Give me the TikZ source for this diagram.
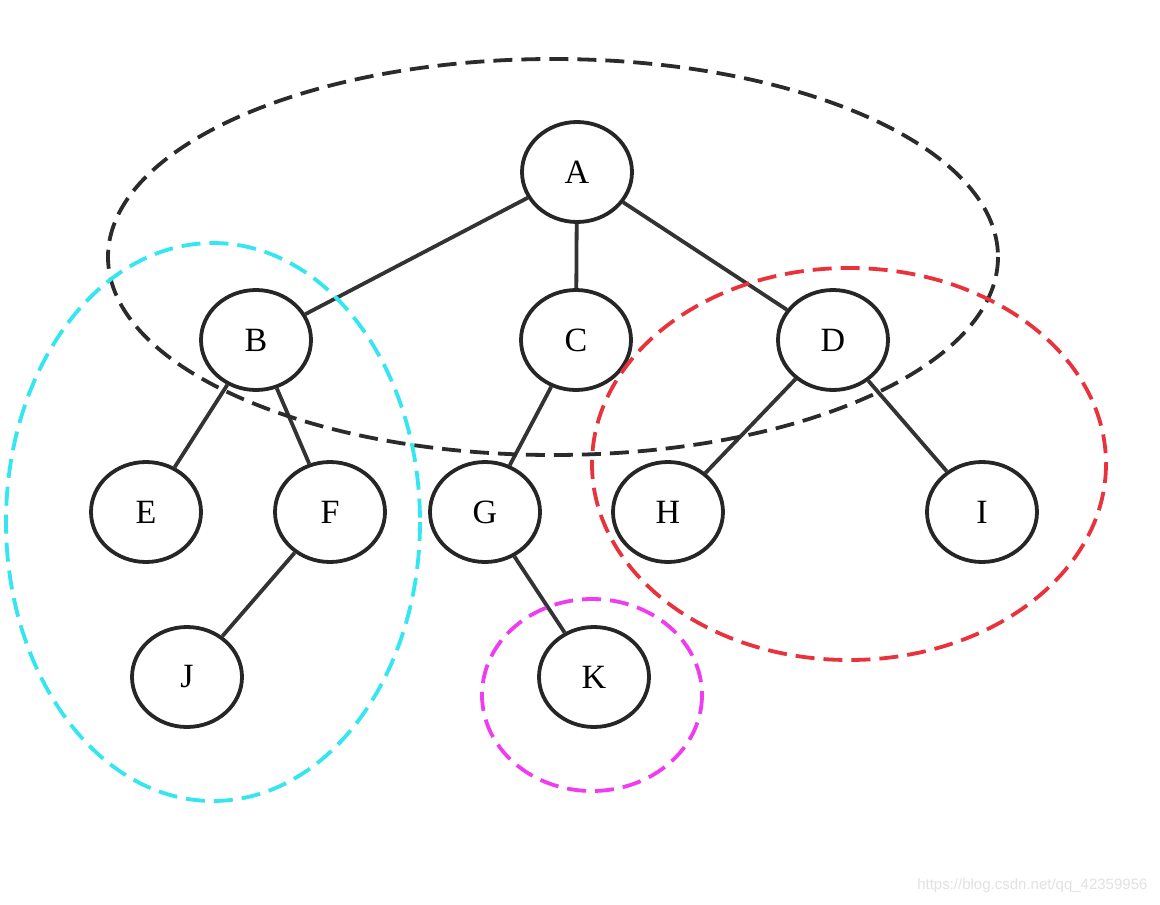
\documentclass[tikz,border=0pt]{standalone}
\usepackage{fontspec}
\setmainfont{Liberation Serif}
\newfontfamily\wmfont{Liberation Sans}
\usetikzlibrary{shapes.geometric}
\definecolor{dblack}{HTML}{2B2B2B}
\definecolor{dcyan}{HTML}{33E6F0}
\definecolor{dred}{HTML}{E8333D}
\definecolor{dmag}{HTML}{F03CF0}
\definecolor{wm}{HTML}{E2E2E2}
\tikzset{
  tnode/.style={ellipse, draw=black!85, line width=3.8pt, minimum width=110pt, minimum height=100pt, inner sep=0pt, font=\fontsize{34}{36}\selectfont},
  tedge/.style={draw=black!80, line width=3.8pt},
  grp/.style={line width=3.8pt, dash pattern=on 19pt off 9pt}
}
\begin{document}
\begin{tikzpicture}[x=1pt,y=-1pt]
\useasboundingbox[fill=white] (0,0) rectangle (1160,905);
\node[tnode] (A) at (577,172) {A};
\node[tnode] (B) at (256,340) {B};
\node[tnode] (C) at (576,340) {C};
\node[tnode] (D) at (833,340) {D};
\node[tnode] (E) at (146,512) {E};
\node[tnode] (F) at (330,512) {F};
\node[tnode] (G) at (485,512) {G};
\node[tnode] (H) at (668,512) {H};
\node[tnode] (I) at (982,512) {I};
\node[tnode] (J) at (187,677) {J};
\node[tnode] (K) at (594,677) {K};
\draw[tedge] (A) -- (B);
\draw[tedge] (A) -- (C);
\draw[tedge] (A) -- (D);
\draw[tedge] (B) -- (E);
\draw[tedge] (B) -- (F);
\draw[tedge] (C) -- (G);
\draw[tedge] (D) -- (H);
\draw[tedge] (D) -- (I);
\draw[tedge] (F) -- (J);
\draw[tedge] (G) -- (K);
\draw[grp, draw=dblack] (553,257) ellipse [x radius=445, y radius=198];
\draw[grp, draw=dcyan] (213,522) ellipse [x radius=207, y radius=279];
\draw[grp, draw=dred] (849,464) ellipse [x radius=257, y radius=196];
\draw[grp, draw=dmag] (592,695) ellipse [x radius=110, y radius=96];
\node[text=wm, font=\wmfont\fontsize{15}{16}\selectfont, anchor=east] (wmk) at (1151,886) {https://blog.csdn.net/qq\_42359956};
\end{tikzpicture}
\end{document}
